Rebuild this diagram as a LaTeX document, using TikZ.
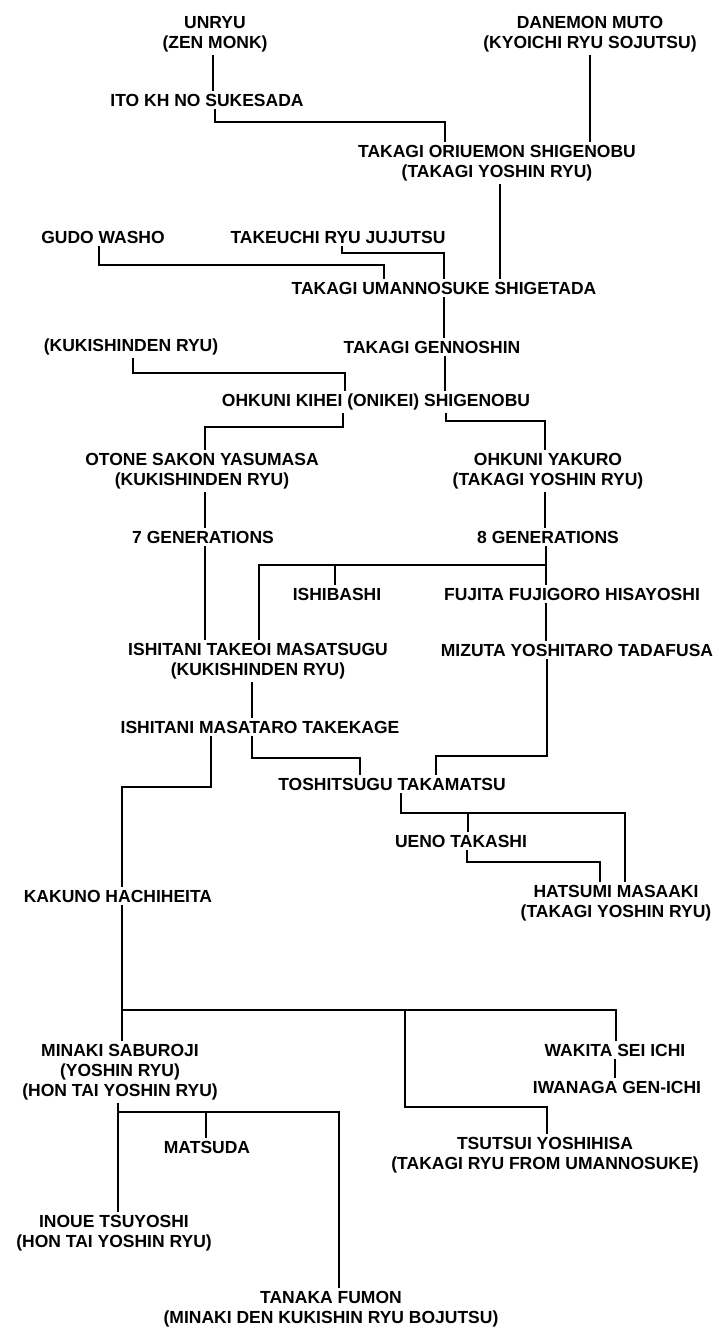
\documentclass[tikz,border=0pt]{standalone}
\usepackage{fontspec}
\setmainfont{Liberation Sans}

\begin{document}
\begin{tikzpicture}[x=1pt,y=-1pt,
    person/.style={font=\fontsize{17.5}{20}\selectfont\bfseries, align=center, inner sep=3pt},
    tie/.style={line width=1.8pt}]
    \useasboundingbox (0,0) rectangle (718,1329);

    \node[person] (unryu) at (215,34) {UNRYU\\(ZEN MONK)};
    \node[person] (danemon) at (590,34) {DANEMON MUTO\\(KYOICHI RYU SOJUTSU)};
    \node[person] (ito) at (207,100) {ITO KH NO SUKESADA};
    \node[person] (ori) at (497,163) {TAKAGI ORIUEMON SHIGENOBU\\(TAKAGI YOSHIN RYU)};
    \node[person] (gudo) at (103,237) {GUDO WASHO};
    \node[person] (takeuchi) at (338,237) {TAKEUCHI RYU JUJUTSU};
    \node[person] (umanno) at (444,288) {TAKAGI UMANNOSUKE SHIGETADA};
    \node[person] (kukishin) at (131,347) {(KUKISHINDEN RYU)};
    \node[person] (genno) at (432,347) {TAKAGI GENNOSHIN};
    \node[person] (kihei) at (376,402) {OHKUNI KIHEI (ONIKEI) SHIGENOBU};
    \node[person] (otone) at (202,471) {OTONE SAKON YASUMASA\\(KUKISHINDEN RYU)};
    \node[person] (yakuro) at (548,471) {OHKUNI YAKURO\\(TAKAGI YOSHIN RYU)};
    \node[person] (gen7) at (203,537) {7 GENERATIONS};
    \node[person] (gen8) at (548,537) {8 GENERATIONS};
    \node[person] (ishibashi) at (337,594) {ISHIBASHI};
    \node[person] (fujita) at (572,594) {FUJITA FUJIGORO HISAYOSHI};
    \node[person] (takeoi) at (258,661) {ISHITANI TAKEOI MASATSUGU\\(KUKISHINDEN RYU)};
    \node[person] (mizuta) at (577,650) {MIZUTA YOSHITARO TADAFUSA};
    \node[person] (masataro) at (260,727) {ISHITANI MASATARO TAKEKAGE};
    \node[person] (toshi) at (392,784) {TOSHITSUGU TAKAMATSU};
    \node[person] (ueno) at (461,841) {UENO TAKASHI};
    \node[person] (kakuno) at (118,896) {KAKUNO HACHIHEITA};
    \node[person] (hatsumi) at (616,903) {HATSUMI MASAAKI\\(TAKAGI YOSHIN RYU)};
    \node[person] (minaki) at (120,1072) {MINAKI SABUROJI\\(YOSHIN RYU)\\(HON TAI YOSHIN RYU)};
    \node[person] (wakita) at (615,1050) {WAKITA SEI ICHI};
    \node[person] (iwanaga) at (617,1087) {IWANAGA GEN-ICHI};
    \node[person] (matsuda) at (207,1147) {MATSUDA};
    \node[person] (tsutsui) at (545,1155) {TSUTSUI YOSHIHISA\\(TAKAGI RYU FROM UMANNOSUKE)};
    \node[person] (inoue) at (114,1233) {INOUE TSUYOSHI\\(HON TAI YOSHIN RYU)};
    \node[person] (tanaka) at (331,1309) {TANAKA FUMON\\(MINAKI DEN KUKISHIN RYU BOJUTSU)};

    \draw[tie] (unryu.south -| 213,0) -- (ito.north -| 213,0);
    \draw[tie] (ito.south -| 215,0) |- (445,122) -- (ori.north -| 445,0);
    \draw[tie] (danemon.south -| 590,0) -- (ori.north -| 590,0);
    \draw[tie] (ori.south -| 500,0) -- (umanno.north -| 500,0);
    \draw[tie] (gudo.south -| 99,0) |- (384,265) -- (umanno.north -| 384,0);
    \draw[tie] (takeuchi.south -| 342,0) |- (444,253) -- (umanno.north -| 444,0);
    \draw[tie] (umanno.south -| 444,0) -- (genno.north -| 444,0);
    \draw[tie] (kukishin.south -| 133,0) |- (345,373) -- (kihei.north -| 345,0);
    \draw[tie] (genno.south -| 445,0) -- (kihei.north -| 445,0);
    \draw[tie] (kihei.south -| 343,0) |- (205,427) -- (otone.north -| 205,0);
    \draw[tie] (kihei.south -| 446,0) |- (545,421) -- (yakuro.north -| 545,0);
    \draw[tie] (otone.south -| 205,0) -- (gen7.north -| 205,0);
    \draw[tie] (yakuro.south -| 545,0) -- (gen8.north -| 545,0);
    \draw[tie] (gen7.south -| 205,0) -- (takeoi.north -| 205,0);
    \draw[tie] (gen8.south -| 546,0) -- (fujita.north -| 546,0);
    \draw[tie] (gen8.south -| 546,0) |- (259,565) -- (takeoi.north -| 259,0);
    \draw[tie] (gen8.south -| 546,0) |- (335,565) -- (ishibashi.north -| 335,0);
    \draw[tie] (fujita.south -| 546,0) -- (mizuta.north -| 546,0);
    \draw[tie] (takeoi.south -| 252,0) -- (masataro.north -| 252,0);
    \draw[tie] (masataro.south -| 211,0) |- (122,787) -- (kakuno.north -| 122,0);
    \draw[tie] (masataro.south -| 252,0) |- (360,758) -- (toshi.north -| 360,0);
    \draw[tie] (mizuta.south -| 547,0) |- (436,756) -- (toshi.north -| 436,0);
    \draw[tie] (toshi.south -| 401,0) |- (625,813) -- (hatsumi.north -| 625,0);
    \draw[tie] (toshi.south -| 401,0) |- (468,813) -- (ueno.north -| 468,0);
    \draw[tie] (ueno.south -| 467,0) |- (600,862) -- (hatsumi.north -| 600,0);
    \draw[tie] (kakuno.south -| 122,0) -- (minaki.north -| 122,0);
    \draw[tie] (kakuno.south -| 122,0) |- (616,1010) -- (wakita.north -| 616,0);
    \draw[tie] (kakuno.south -| 122,0) |- (405,1010) |- (547,1107) -- (tsutsui.north -| 547,0);
    \draw[tie] (wakita.south -| 615,0) -- (iwanaga.north -| 615,0);
    \draw[tie] (minaki.south -| 118,0) -- (inoue.north -| 118,0);
    \draw[tie] (minaki.south -| 118,0) |- (206,1112) -- (matsuda.north -| 206,0);
    \draw[tie] (minaki.south -| 118,0) |- (339,1112) -- (tanaka.north -| 339,0);
\end{tikzpicture}
\end{document}
